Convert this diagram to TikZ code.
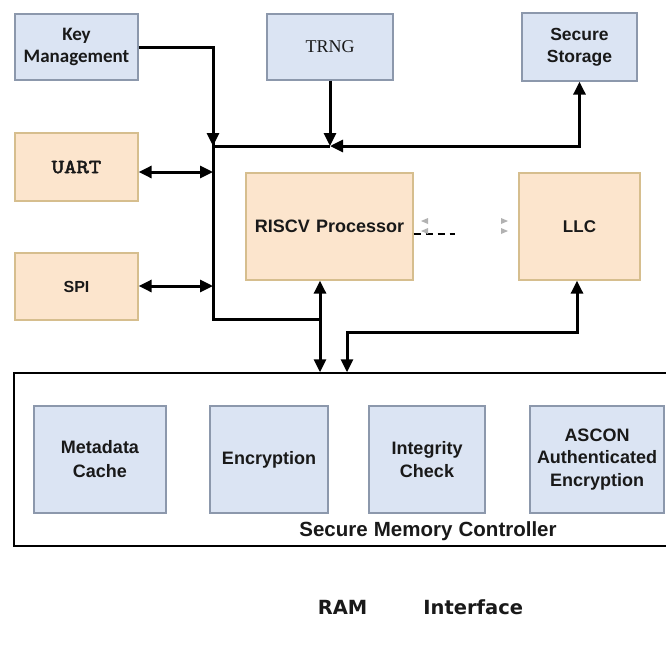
\documentclass[tikz,border=0pt]{standalone}
\usepackage{fontspec}
\setmainfont{Liberation Sans}
\newfontfamily\kmfont{Carlito}
\newfontfamily\trngfont{Liberation Serif}
\newfontfamily\uartfont[FakeBold=2.6, FakeStretch=1.18]{lmmono10-regular.otf}
\newfontfamily\ramfont{DejaVu Sans}
\usetikzlibrary{arrows.meta}
\definecolor{blueFill}{RGB}{219,228,243}
\definecolor{blueLine}{RGB}{140,152,172}
\definecolor{peachFill}{RGB}{252,229,205}
\definecolor{peachLine}{RGB}{214,190,142}
\definecolor{ink}{RGB}{25,25,25}
\tikzset{
  blk/.style={draw, line width=1.3pt, inner sep=0pt, align=center, text=ink,
    font=\bfseries\fontsize{17.5}{22}\selectfont},
  bluebox/.style={blk, fill=blueFill, draw=blueLine},
  peachbox/.style={blk, fill=peachFill, draw=peachLine},
  wire/.style={line width=3pt, line join=miter},
  tip/.style={-{Triangle[length=13pt,width=12pt]}},
  tips/.style={{Triangle[length=13pt,width=12pt]}-{Triangle[length=13pt,width=12pt]}},
  ghosttip/.style={fill=black!30, draw=none}
}
\begin{document}
\begin{tikzpicture}[x=1pt, y=-1pt]
\useasboundingbox (0,0) rectangle (666,667);
\fill[white] (0,0) rectangle (666,667);

% top row
\node[bluebox, minimum width=123pt, minimum height=66pt, font=\kmfont\bfseries\fontsize{19}{22}\selectfont]
  (km) at (76.5,47) {Key\\Management};
\node[bluebox, minimum width=126pt, minimum height=66pt, font=\trngfont\fontsize{18}{22}\selectfont]
  (trng) at (330,47) {TRNG};
\node[bluebox, minimum width=115pt, minimum height=68pt] (ss) at (579.5,47) {Secure\\Storage};

% peripherals
\node[peachbox, minimum width=123pt, minimum height=68pt, font=\uartfont\fontsize{20}{22}\selectfont]
  (uart) at (76.5,167) {UART};
\node[peachbox, minimum width=123pt, minimum height=67pt, font=\bfseries\fontsize{16}{22}\selectfont]
  (spi) at (76.5,286.5) {SPI};

% processor and cache
\node[peachbox, minimum width=167pt, minimum height=107pt, font=\bfseries\fontsize{18}{22}\selectfont]
  (cpu) at (329.5,226.5) {RISCV\hspace{0.35em}Processor};
\node[peachbox, minimum width=121pt, minimum height=107pt, font=\bfseries\fontsize{17}{22}\selectfont]
  (llc) at (579.5,226.5) {LLC};

% secure memory controller
\node[draw, line width=1.5pt, minimum width=656pt, minimum height=173pt, inner sep=0pt]
  (smc) at (342,459.5) {};
\node[text=ink, font=\bfseries\fontsize{20.5}{22}\selectfont] (smclabel) at (428,531)
  {Secure\hspace{0.3em}Memory\hspace{0.3em}Controller};
\node[bluebox, minimum width=132pt, minimum height=107pt, font=\bfseries\fontsize{18}{24}\selectfont]
  (meta) at (100,459.5) {Metadata\\Cache};
\node[bluebox, minimum width=118pt, minimum height=107pt, font=\bfseries\fontsize{18}{24}\selectfont]
  (enc) at (269,459.5) {Encryption};
\node[bluebox, minimum width=116pt, minimum height=107pt, font=\bfseries\fontsize{18}{23}\selectfont]
  (integ) at (427,459.5) {Integrity\\Check};
\node[bluebox, minimum width=134pt, minimum height=107pt, font=\bfseries\fontsize{18}{22.5}\selectfont]
  (ascon) at (597,459.5) {ASCON\\Authenticated\\Encryption};

% memory interface label
\node[text=ink, font=\ramfont\bfseries\fontsize{19.5}{22}\selectfont] (ram) at (420.5,607) {RAM\hspace{56pt}Interface};

% bus points
\coordinate (busTop) at (213,146);
\coordinate (trngJoin) at (330,146);
\coordinate (busBot) at (213,319);
\coordinate (cpuJoin) at (320,319);
\coordinate (uartBus) at (213,172);
\coordinate (spiBus) at (213,286);
\coordinate (llcTurn) at (577,332);
\coordinate (smcLeft) at (347,332);

% key management feeds the bus
\draw[wire, tip] (km.east) -| (busTop);
% TRNG feeds the bus
\draw[wire, tip] (trng.south) -- (trngJoin);
% bus spine
\draw[wire] (busTop) -- (trngJoin);
\draw[wire] (213,47) -- (busBot) -- (cpuJoin);
% secure storage link
\draw[wire, tips] (trngJoin) -| (ss.south);
% peripherals on the bus
\draw[wire, tips] (uart.east |- uartBus) -- (uartBus);
\draw[wire, tips] (spi.east |- spiBus) -- (spiBus);
% processor to memory controller
\draw[wire, tips] (cpu.south -| cpuJoin) -- (cpuJoin |- smc.north);
% LLC to memory controller
\draw[wire, tips] (llc.south -| llcTurn) -- (llcTurn) -- (smcLeft) -- (smcLeft |- smc.north);

% processor to LLC (dashed, faint)
\coordinate (dashEnd) at (455,234);
\draw[line width=1.8pt, dash pattern=on 7pt off 5pt] (cpu.east |- dashEnd) -- (dashEnd);
\fill[ghosttip] (421,221) -- (428,218) -- (428,224) -- cycle;
\fill[ghosttip] (421,231) -- (428,228) -- (428,234) -- cycle;
\fill[ghosttip] (508,221) -- (501,218) -- (501,224) -- cycle;
\fill[ghosttip] (508,231) -- (501,228) -- (501,234) -- cycle;
\end{tikzpicture}
\end{document}
